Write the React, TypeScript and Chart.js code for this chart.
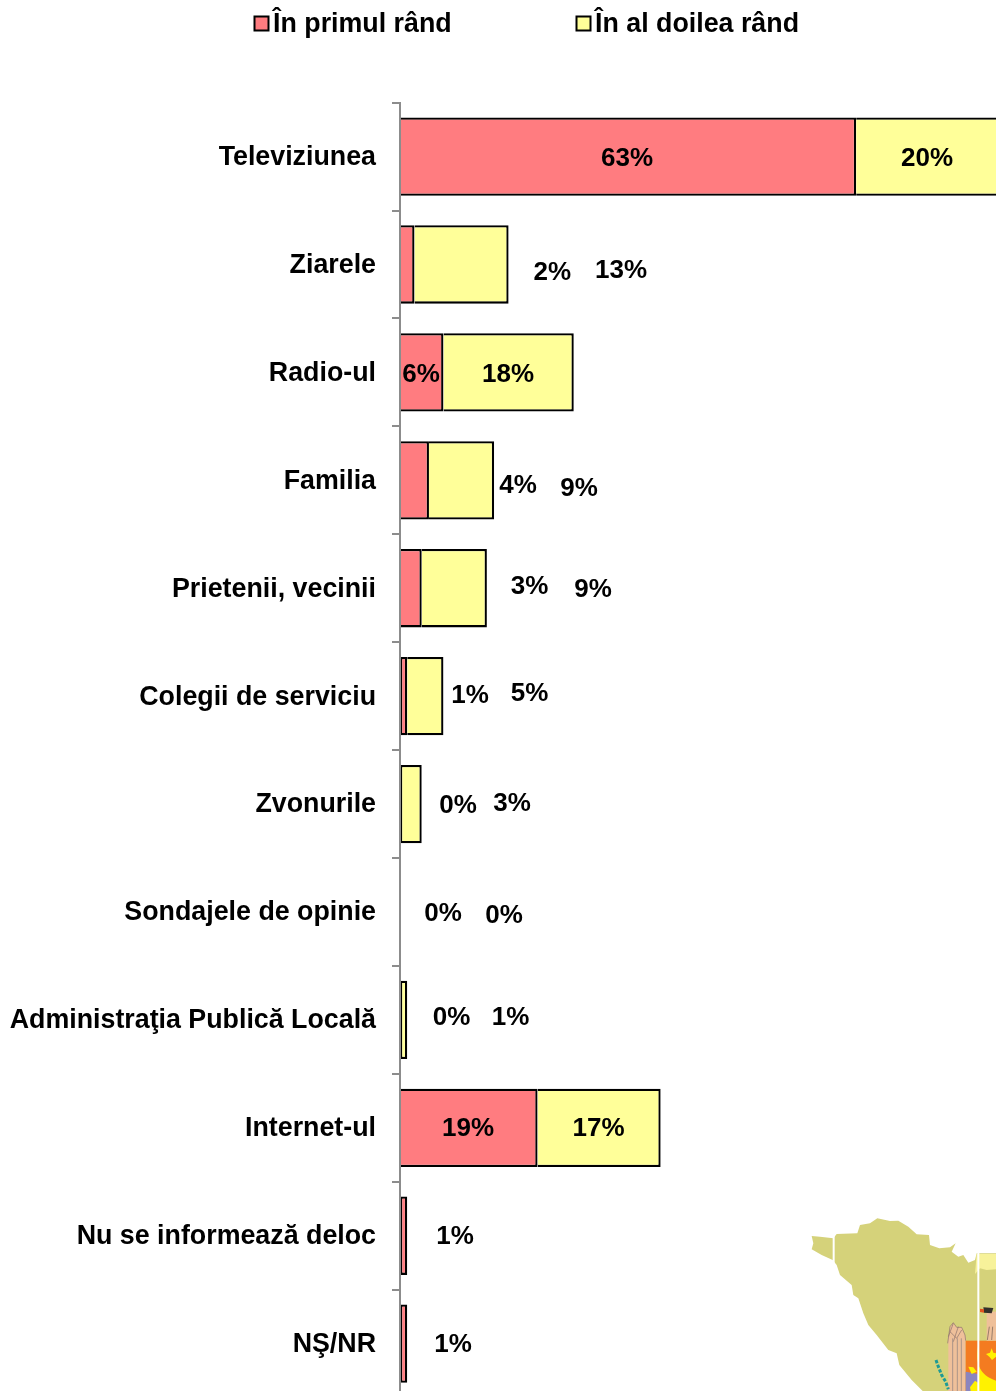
import React, { useEffect, useRef } from "react";
import { Chart, registerables } from "chart.js";

Chart.register(...registerables);

const categories = [
  "Televiziunea", "Ziarele", "Radio-ul", "Familia", "Prietenii, vecinii", "Colegii de serviciu",
  "Zvonurile", "Sondajele de opinie", "Administraţia Publică Locală", "Internet-ul",
  "Nu se informează deloc", "NŞ/NR",
];
const seriesNames = ["În primul rând", "În al doilea rând"];
const primulRand = [63, 2, 6, 4, 3, 1, 0, 0, 0, 19, 1, 1];
const doileaRand = [20, 13, 18, 9, 9, 5, 3, 0, 1, 17, 0, 0];
const hiddenLabels = [[], [10, 11]];

// label nudges from the centre of each bar, in pixels
const nudgePrimul = [[-1, 0], [145, 6], [-0.7, 0], [103.5, 4], [118.6, -3], [66.4, -2], [58, 0], [43, 0], [51.5, -4], [-0.8, -1], [51.4, -1], [49.4, -1]];
const nudgeDoilea = [[-1.5, 0], [159.5, 4], [-0.6, 0], [117.5, 7], [138.7, 0], [104.2, -4], [101.1, -2], [104, 2], [106.9, -4], [-0.5, -1], [0, 0], [0, 0]];

const FONT_FAMILY = "'Liberation Sans', Arial, sans-serif";
const FONT = `bold 26px ${FONT_FAMILY}`;
const FONT_WIDE = `bold 26.8px ${FONT_FAMILY}`;
const PINK = "#FF7C80";
const YELLOW = "#FFFF99";
const AXIS = "#8C8C8C";

const valueLabels = {
  id: "valueLabels",
  afterDatasetsDraw(chart: any) {
    const { ctx } = chart;
    const nudges = [nudgePrimul, nudgeDoilea];
    ctx.save();
    ctx.font = FONT;
    ctx.fillStyle = "#000";
    ctx.textAlign = "center";
    ctx.textBaseline = "middle";
    chart.data.datasets.forEach((ds: any, d: number) => {
      const meta = chart.getDatasetMeta(d);
      meta.data.forEach((bar: any, i: number) => {
        if ((hiddenLabels[d] as number[]).includes(i)) return;
        const p = bar.getProps(["x", "y", "base"], true);
        const cx = (p.x + p.base) / 2 + nudges[d][i][0];
        ctx.fillText(`${ds.data[i]}%`, cx, p.y + nudges[d][i][1] + 2);
      });
    });
    ctx.restore();
  },
};

const legendAtTop = {
  id: "legendAtTop",
  afterDraw(chart: any) {
    const { ctx } = chart;
    const starts = [254, 576];
    ctx.save();
    ctx.font = FONT_WIDE;
    ctx.textBaseline = "middle";
    ctx.textAlign = "left";
    chart.data.datasets.forEach((ds: any, d: number) => {
      ctx.fillStyle = ds.backgroundColor;
      ctx.strokeStyle = "#000";
      ctx.lineWidth = 2;
      ctx.fillRect(starts[d] + 0.5, 16.5, 14, 14);
      ctx.strokeRect(starts[d] + 0.5, 16.5, 14, 14);
      ctx.fillStyle = "#000";
      ctx.fillText(ds.label, starts[d] + 19, 25);
    });
    ctx.restore();
  },
};

function MapDecoration() {
  return (
    <svg
      style={{ position: "absolute", left: 780, top: 1190, width: 216, height: 201 }}
      viewBox="0 0 648 603"
    >
      <polygon
        fill="#D5D27A"
        points="95,138 120,140 160,145 170,132 232,130 240,105 270,100 292,85 330,93 355,92 385,110 410,133 447,135 450,165 478,175 510,172 527,160 515,185 535,200 550,195 565,218 585,210 590,190 648,190 648,603 428,603 395,570 358,525 350,490 325,480 290,435 265,405 250,370 235,325 220,315 215,285 180,255 170,225 158,210 125,195 95,178 100,160"
      />
      <polygon fill="#F7F29A" points="590,192 648,192 648,238 620,240 600,235 585,252" />
      <rect x="505" y="440" width="52" height="163" fill="#EFC09A" />
      <path d="M503,460 L510,410 L520,398 L530,412 L545,412 L555,435 L557,452" fill="#EFC09A" stroke="#8A6F6A" strokeWidth="2" />
      <path d="M510,425 L530,445 L545,420 M520,400 L505,440 M535,410 L520,455" fill="none" stroke="#8A6F6A" strokeWidth="2" />
      <path d="M518,445 V603 M532,445 V603 M544,445 V603" stroke="#8A7F80" strokeWidth="2" />
      <rect x="557" y="452" width="91" height="151" fill="#F47B20" />
      <path d="M594,470 C585,520 600,555 648,572 V603 H594 Z" fill="#FFF200" />
      <polygon fill="#FFF200" points="635,475 640,488 648,490 648,500 636,510 628,500 618,492 630,488" />
      <polygon fill="#8B85BE" points="557,545 594,552 594,603 557,603" />
      <polygon fill="#FFF200" points="565,530 580,532 590,545 575,552" />
      <polygon fill="#FFF200" points="570,592 585,572 594,578 594,603 572,603" />
      <rect x="620" y="365" width="28" height="87" fill="#EFC09A" />
      <path d="M622,450 L628,410 M635,450 L638,410" stroke="#6E5A50" strokeWidth="2" />
      <polygon fill="#33302B" points="610,352 640,354 635,370 612,368" />
      <polygon fill="#E2521E" points="600,356 612,358 612,368 600,366" />
      <path d="M468,510 L475,530 L485,555 L497,575 L505,598" stroke="#1E9A96" strokeWidth="9" strokeDasharray="10 5" fill="none" />
      <line x1="161" y1="130" x2="161" y2="225" stroke="#fff" strokeWidth="6" />
      <line x1="595" y1="185" x2="595" y2="603" stroke="#fff" strokeWidth="6" />
    </svg>
  );
}

export default function App() {
  const ref = useRef<HTMLCanvasElement>(null);

  useEffect(() => {
    const chart = new Chart(ref.current!, {
      type: "bar",
      data: {
        labels: categories,
        datasets: [
          { label: seriesNames[0], data: primulRand, backgroundColor: PINK },
          { label: seriesNames[1], data: doileaRand, backgroundColor: YELLOW },
        ].map((d, k) => ({
          ...d,
          borderColor: "#000",
          borderWidth: (c: any) => (c.raw === 0 ? 0 : 2.3),
          borderSkipped: (c: any) => {
            if (k === 0) return c.raw >= 2 ? "left" : false;
            return primulRand[c.dataIndex] > 0 ? "left" : false;
          },
          categoryPercentage: 0.726,
          barPercentage: 1,
        })),
      },
      options: {
        indexAxis: "y",
        responsive: false,
        animation: false,
        layout: { padding: { top: 102.6, bottom: 32.4, left: 0, right: 0 } },
        plugins: { legend: { display: false }, tooltip: { enabled: false } },
        scales: {
          x: { stacked: true, display: false, min: 0, max: 84.25 },
          y: {
            stacked: true,
            offset: true,
            border: { color: AXIS, width: 2, z: 2 },
            afterFit: (s: any) => {
              s.width = 400;
            },
            grid: { color: AXIS, lineWidth: 2, drawOnChartArea: false, tickLength: 8, offset: true, z: 2 },
            ticks: {
              color: "#000",
              font: { family: FONT_FAMILY, size: 26.8, weight: "bold" },
              padding: 16,
              autoSkip: false,
              labelOffset: 1,
            },
          },
        },
      } as any,
      plugins: [valueLabels, legendAtTop],
    });
    return () => chart.destroy();
  }, []);

  return (
    <div style={{ position: "fixed", left: 0, top: 0, width: 996, height: 1391, overflow: "hidden", background: "#fff" }}>
      <MapDecoration />
      <canvas ref={ref} width={1010} height={1430} style={{ position: "absolute", left: 0, top: 0, display: "block" }} />
    </div>
  );
}
